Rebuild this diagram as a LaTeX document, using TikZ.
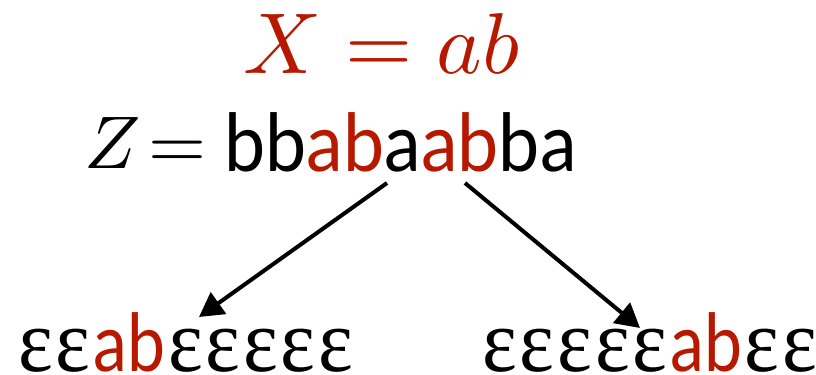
\documentclass[tikz,border=0pt]{standalone}
\usepackage{graphicx}
\usepackage{fontspec}
\newfontfamily\gillsans[FakeStretch=0.92]{Lato}
\newfontfamily\abfont[FakeStretch=0.85]{Lato}
\newfontfamily\epsfont[FakeStretch=0.92]{Liberation Serif}
\usetikzlibrary{positioning,arrows.meta}
\definecolor{hilite}{RGB}{183,24,0}
\newcommand{\hl}[1]{\textcolor{hilite}{#1}}
\newcommand{\hlab}{{\abfont\fontsize{40}{40}\selectfont\hl{ab}}}
\newcommand{\epsc}{ε\kern1.4pt}

\begin{document}
\begin{tikzpicture}[x=0.5pt,y=-0.5pt,>={Triangle[length=12pt,width=13pt]},
  lbl/.style={inner sep=0pt,anchor=base west},
  occ/.style={lbl,font=\epsfont\fontsize{45}{45}\selectfont}]
\useasboundingbox (0,0) rectangle (816,375);
\node[lbl,text=hilite] (xeq) at (243,74) {\scalebox{4.32}{$X=ab$}};
\node[lbl,anchor=base east] (zlhs) at (207,169) {\scalebox{3.73}{$Z\mskip2mu{=}$}};
\node[lbl,font=\gillsans\fontsize{40}{40}\selectfont] (zstr) at (224,171) {bb\hl{ab}a\hl{ab}ba};
\node[occ] (occl) at (18,371) {\epsc\epsc\hlab\kern1.4pt\epsc\epsc\epsc\epsc\epsc};
\node[occ] (occr) at (482,371) {\epsc\epsc\epsc\epsc\epsc\hlab\kern1.4pt\epsc\epsc};
% arrow ends
\coordinate (sl) at (387,183);
\coordinate (tl) at (199,317);
\coordinate (sr) at (465,183);
\coordinate (tr) at (640,328);
\draw[->,line width=2pt] (sl) -- (tl);
\draw[->,line width=2pt] (sr) -- (tr);
\end{tikzpicture}
\end{document}
